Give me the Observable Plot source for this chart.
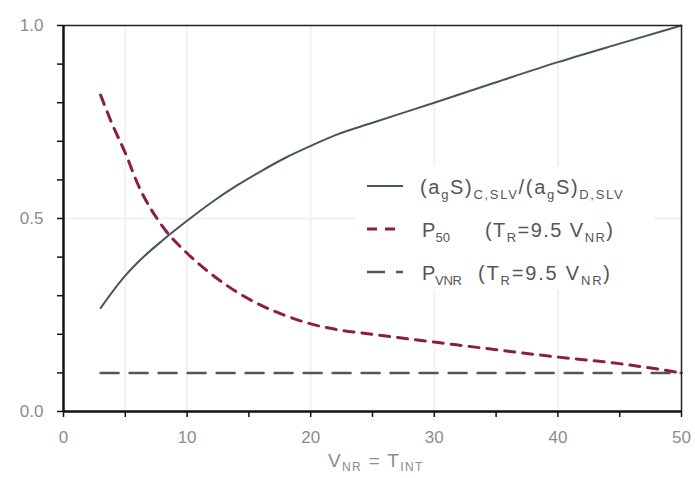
<!DOCTYPE html>
<html><head><meta charset="utf-8">
<script src="https://cdn.jsdelivr.net/npm/d3@7"></script>
<script src="https://cdn.jsdelivr.net/npm/@observablehq/plot@0.6"></script>
<style>body{margin:0;background:#fff;} #chart{width:695px;height:478px;}</style>
</head><body><div id="chart"></div>
<script>
// Data
const xValues     = [3, 4, 5, 6, 8, 10, 12, 14, 16, 18, 20, 22, 25, 30, 35, 40, 45, 50];
const ratioValues = [0.268, 0.312, 0.352, 0.386, 0.443, 0.494, 0.542, 0.585, 0.623, 0.658, 0.688, 0.716, 0.748, 0.80, 0.853, 0.905, 0.953, 1.0];
const p50Values   = [0.82, 0.74, 0.67, 0.59, 0.48, 0.41, 0.355, 0.31, 0.275, 0.248, 0.227, 0.213, 0.20, 0.18, 0.16, 0.141, 0.124, 0.10];
const pvnrX       = [3, 50];
const pvnrValues  = [0.10, 0.10];
const xTicks = [0, 5, 10, 15, 20, 25, 30, 35, 40, 45, 50];
const yTicks = [0, 0.1, 0.2, 0.3, 0.4, 0.5, 0.6, 0.7, 0.8, 0.9, 1.0];
const xLabelTicks = [0, 10, 20, 30, 40, 50];
const yLabelTicks = [0, 0.5, 1.0];
const xGrid = [5, 10, 20, 30, 40];
const yGrid = [0.5];

const ratioData = xValues.map((x, i) => ({x, y: ratioValues[i]}));
const p50Data   = xValues.map((x, i) => ({x, y: p50Values[i]}));
const pvnrData  = pvnrX.map((x, i) => ({x, y: pvnrValues[i]}));

const C_RATIO = "#46555e", C_P50 = "#8b1e44", C_PVNR = "#555555";
const DASH_P50 = "10,8", DASH_PVNR = "18,11";

const plot = Plot.plot({
  width: 695, height: 478,
  marginLeft: 63, marginRight: 14, marginTop: 25, marginBottom: 67,
  x: {domain: [0, 50]},
  y: {domain: [0, 1]},
  style: {fontFamily: "'Liberation Sans', Arial, sans-serif", fontSize: "17px", background: "#fff"},
  marks: [
    Plot.ruleX(xGrid, {stroke: "#f1f1f1", strokeWidth: 2}),
    Plot.ruleY(yGrid, {stroke: "#f1f1f1", strokeWidth: 2}),
    Plot.axisX({ticks: xTicks, tickSize: 6, tickPadding: 13, stroke: "#111", strokeWidth: 1.5,
      fill: "#8c8c8c", tickFormat: d => xLabelTicks.includes(d) ? String(d) : "", label: null}),
    Plot.axisY({ticks: yTicks, tickSize: 6, tickPadding: 14, stroke: "#111", strokeWidth: 1.5,
      fill: "#8c8c8c", tickFormat: d => yLabelTicks.some(v => Math.abs(v - d) < 1e-9) ? d.toFixed(1) : "", label: null}),
    Plot.line(pvnrData, {x: "x", y: "y", stroke: C_PVNR, strokeWidth: 2.5, strokeDasharray: DASH_PVNR}),
    Plot.line(p50Data, {x: "x", y: "y", stroke: C_P50, strokeWidth: 3, strokeDasharray: DASH_P50, curve: "monotone-x"}),
    Plot.line(ratioData, {x: "x", y: "y", stroke: C_RATIO, strokeWidth: 2, curve: "monotone-x"}),
    Plot.ruleY([1], {stroke: "#222", strokeWidth: 1.5}),
    Plot.ruleX([50], {stroke: "#222", strokeWidth: 1.5}),
    Plot.ruleY([0], {stroke: "#111", strokeWidth: 2.5}),
    Plot.ruleX([0], {stroke: "#111", strokeWidth: 2.5})
  ]
});
document.getElementById("chart").appendChild(plot);

// Legend and axis title (with subscripts)
const svg = d3.select(plot);
const font = "'Liberation Sans', Arial, sans-serif";
function richText(g, x, y, parts, size, subSize, fill, targetWidth, subDy = 5) {
  const t = g.append("text").attr("x", x).attr("y", y).attr("font-family", font)
    .attr("font-size", size).attr("fill", fill).attr("text-anchor", "start");
  let prevSub = false;
  parts.forEach(([s, sub]) => {
    const ts = t.append("tspan").text(s);
    const isSub = !!sub;
    if (isSub) ts.attr("font-size", subSize);
    ts.attr("dy", isSub && !prevSub ? subDy : (!isSub && prevSub ? -subDy : 0));
    prevSub = isSub;
  });
  if (targetWidth) {
    const n = parts.reduce((a, [s]) => a + s.length, 0);
    const w = t.node().getBBox().width;
    const ls = (targetWidth - w) / Math.max(1, n - 1);
    t.attr("letter-spacing", ls.toFixed(2));
  }
  return t;
}
const lg = svg.append("g").attr("text-anchor", "start");
lg.append("rect").attr("x", 356).attr("y", 166).attr("width", 298).attr("height", 124).attr("fill", "#fff");
const rows = [
  {y: 186, stroke: C_RATIO, w: 2, dash: null},
  {y: 229, stroke: C_P50, w: 3, dash: DASH_P50},
  {y: 272, stroke: C_PVNR, w: 2.5, dash: DASH_PVNR}
];
rows.forEach(r => {
  const l = lg.append("line").attr("x1", 367).attr("x2", 403).attr("y1", r.y).attr("y2", r.y)
    .attr("stroke", r.stroke).attr("stroke-width", r.w);
  if (r.dash) l.attr("stroke-dasharray", r.dash);
});
const tc = "#555";
richText(lg, 420, 194, [["(a"], ["g", 1], ["S)"], ["C,SLV", 1], ["/(a"], ["g", 1], ["S)"], ["D,SLV", 1]], 20, 13, tc, 203);
richText(lg, 422, 237, [["P"], ["50", 1]], 20, 13, tc, 28);
richText(lg, 485, 237, [["(T"], ["R", 1], ["=9.5 V"], ["NR", 1], [")"]], 20, 13, tc, 128);
richText(lg, 422, 280, [["P"], ["VNR", 1]], 20, 13, tc, 40);
richText(lg, 478, 280, [["(T"], ["R", 1], ["=9.5 V"], ["NR", 1], [")"]], 20, 13, tc, 132);

richText(svg.append("g"), 328, 467, [["V"], ["NR", 1], [" = T"], ["INT", 1]], 19, 12, "#8c8c8c", 95, 4);
</script>
</body></html>
